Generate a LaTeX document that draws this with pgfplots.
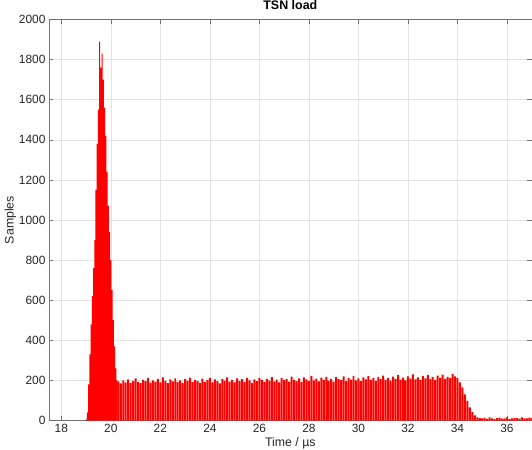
\documentclass[border=0pt]{standalone}
\usepackage{pgfplots}
\pgfplotsset{compat=1.18}
\usepackage{pgfplotstable}
\usepackage{fontspec}
\setmainfont{Liberation Sans}

\pgfplotstableread{
x y
19.00 5
19.05 40
19.10 180
19.15 330
19.20 480
19.25 620
19.30 760
19.35 900
19.40 1150
19.45 1380
19.50 1550
19.55 1890
19.60 1760
19.65 1830
19.70 1700
19.75 1560
19.80 1420
19.85 1240
19.90 1070
19.95 940
20.00 800
20.05 650
20.10 500
20.15 370
20.20 260
20.25 200
}\peak

\pgfplotstableread{
x y
20.3 195
20.4 185
20.5 200
20.6 190
20.7 205
20.8 188
20.9 198
21.0 210
21.1 192
21.2 186
21.3 203
21.4 196
21.5 212
21.6 189
21.7 200
21.8 194
21.9 208
22.0 190
22.1 215
22.2 198
22.3 187
22.4 205
22.5 195
22.6 210
22.7 192
22.8 200
22.9 186
23.0 207
23.1 199
23.2 214
23.3 191
23.4 203
23.5 196
23.6 188
23.7 209
23.8 193
23.9 201
24.0 212
24.1 190
24.2 205
24.3 197
24.4 185
24.5 208
24.6 199
24.7 215
24.8 194
24.9 203
25.0 190
25.1 210
25.2 198
25.3 206
25.4 192
25.5 213
25.6 200
25.7 187
25.8 205
25.9 196
26.0 211
26.1 202
26.2 193
26.3 208
26.4 199
26.5 216
26.6 195
26.7 204
26.8 190
26.9 212
27.0 201
27.1 207
27.2 194
27.3 219
27.4 203
27.5 197
27.6 210
27.7 192
27.8 215
27.9 205
28.0 198
28.1 222
28.2 200
28.3 209
28.4 195
28.5 214
28.6 203
28.7 218
28.8 199
28.9 208
29.0 194
29.1 216
29.2 206
29.3 201
29.4 220
29.5 197
29.6 211
29.7 204
29.8 223
29.9 200
30.0 210
30.1 196
30.2 215
30.3 205
30.4 221
30.5 202
30.6 212
30.7 198
30.8 218
30.9 207
31.0 224
31.1 203
31.2 213
31.3 199
31.4 219
31.5 208
31.6 226
31.7 204
31.8 214
31.9 200
32.0 220
32.1 209
32.2 230
32.3 205
32.4 215
32.5 201
32.6 222
32.7 210
32.8 227
32.9 206
33.0 217
33.1 203
33.2 224
33.3 212
33.4 229
33.5 207
33.6 218
33.7 211
33.8 232
33.9 220
34.0 212
34.1 190
34.2 165
34.3 130
34.4 98
34.5 65
34.6 42
34.7 26
34.8 16
34.9 12
35.0 10
35.1 13
35.2 8
35.3 15
35.4 11
35.5 7
35.6 12
35.7 14
35.8 9
35.9 11
36.0 16
36.1 8
36.2 10
36.3 13
36.4 12
36.5 9
36.6 15
36.7 11
36.8 10
36.9 14
37.0 12
}\flat

\begin{document}
\begin{tikzpicture}
\begin{axis}[
  width=483bp, height=401.2bp, scale only axis,
  xmin=17.5, xmax=37, ymin=0, ymax=2000,
  xtick={18,20,...,36}, ytick={0,200,...,2000},
  grid=major, major grid style={black!11, line width=0.5pt},
  tick align=inside, major tick length=4.5bp,
  axis line style={black!55, line width=0.5pt},
  tick style={black!55, line width=0.5pt},
  /pgf/number format/assume math mode=true,
  /pgf/number format/1000 sep={},
  scaled y ticks=false,
  every tick label/.append style={font=\fontsize{12}{14}\selectfont, text=black!85},
  title={TSN load},
  title style={font=\fontsize{12.5}{14}\selectfont\bfseries, at={(axis description cs:0.5,1.0112)}, anchor=base, inner sep=0pt},
  xlabel={Time / µs},
  xlabel style={font=\fontsize{12.4}{14}\selectfont, text=black!85, at={(axis description cs:0.5,-0.0648)}, anchor=base, inner sep=0pt},
  ylabel={Samples},
  ylabel style={font=\fontsize{12.4}{14}\selectfont, text=black!85, at={(axis description cs:-0.0731,0.5)}, anchor=base, inner sep=0pt},
]
\addplot[ybar, bar width=0.042, bar shift=0pt, fill=red, draw=none] table {\peak};
\addplot[ybar, bar width=0.08, bar shift=0pt, fill=red, draw=none] table {\flat};
\end{axis}
\path[use as bounding box] ([xshift=-49bp,yshift=-29.3bp]current axis.south west) rectangle ([yshift=19.5bp]current axis.north east);
\end{tikzpicture}
\end{document}
